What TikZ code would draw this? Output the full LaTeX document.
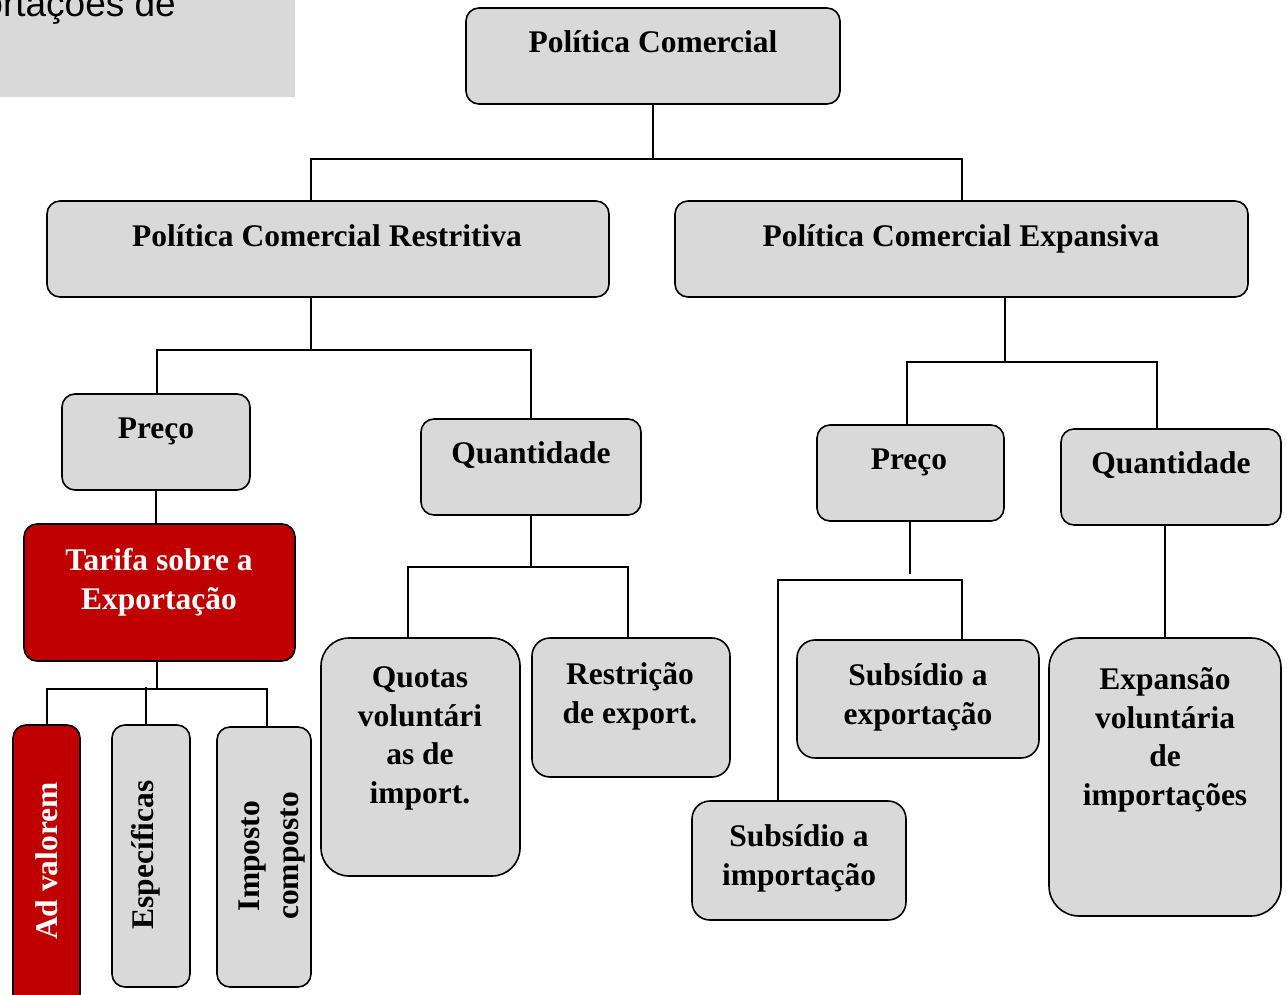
\documentclass[tikz,border=0pt]{standalone}
\usepackage{fontspec}
\setmainfont{Liberation Serif}
\newfontfamily\arialfont{Liberation Sans}
\definecolor{boxgray}{HTML}{D9D9D9}
\definecolor{boxred}{HTML}{C00000}
\tikzset{
  gbox/.style={draw=black, line width=1.6pt, fill=boxgray, rounded corners=13pt, inner sep=0pt},
  rbox/.style={gbox, fill=boxred},
  lbl/.style={font=\bfseries\fontsize{31.5}{38.5}\selectfont, align=center, anchor=base, inner sep=0pt},
  wlbl/.style={lbl, text=white},
  conn/.style={draw=black, line width=1.8pt},
}
\newcommand{\mkbox}[6]{%
  \node[#6, minimum width={#4-#2}, minimum height={#5-#3}] (#1) at ({(#2+#4)/2},{(#3+#5)/2}) {};}
\begin{document}
\begin{tikzpicture}[x=1pt,y=-1pt]
\useasboundingbox (0,0) rectangle (1287,995);
\clip (0,0) rectangle (1287,995);
% top-left clipped box
\fill[boxgray] (0,-5) rectangle (295,97);
\node[font=\arialfont\fontsize{37}{42}\selectfont, anchor=base east, inner sep=0pt] (cut) at (176,17) {ortações de};

% boxes
\mkbox{pc}{466}{8}{840}{104}{gbox}
\mkbox{pcr}{47}{201}{609}{297}{gbox}
\mkbox{pce}{675}{201}{1248}{297}{gbox}
\mkbox{prl}{62}{394}{250}{490}{gbox}
\mkbox{qtl}{421}{419}{641}{515}{gbox}
\mkbox{tar}{24}{524}{295}{661}{rbox}
\mkbox{adv}{13}{725}{80}{1010}{rbox}
\mkbox{esp}{112}{725}{190}{987}{gbox}
\mkbox{imp}{217}{727}{311}{987}{gbox}
\mkbox{quo}{321}{638}{520}{876}{gbox, rounded corners=28pt}
\mkbox{res}{532}{638}{730}{777}{gbox, rounded corners=18pt}
\mkbox{prr}{817}{425}{1004}{521}{gbox}
\mkbox{qtr}{1061}{429}{1281}{525}{gbox}
\mkbox{sexp}{797}{640}{1039}{758}{gbox, rounded corners=18pt}
\mkbox{simp}{692}{801}{906}{920}{gbox, rounded corners=18pt}
\mkbox{exv}{1049}{638}{1281}{916}{gbox, rounded corners=30pt}

% labels (multi-line: base = last line's baseline)
\node[lbl] (tpc) at (653,53) {Política Comercial};
\node[lbl] (tpcr) at (327,246) {Política Comercial Restritiva};
\node[lbl] (tpce) at (961,246) {Política Comercial Expansiva};
\node[lbl] (tprl) at (156,438) {Preço};
\node[lbl] (tqtl) at (531,463) {Quantidade};
\node[wlbl] (ttar) at (159,609) {Tarifa sobre a\\Exportação};
\node[lbl, text=white, rotate=90, anchor=center] (tadv) at (47,861) {Ad valorem};
\node[lbl, rotate=90, anchor=center] (tesp) at (146,855) {Específicas};
\node[lbl, rotate=90, anchor=center] (timp) at (272,856) {Imposto\\composto};
\node[lbl] (tquo) at (420,803) {Quotas\\voluntári\\as de\\import.};
\node[lbl] (tres) at (630,723) {Restrição\\de export.};
\node[lbl] (tprr) at (909,469) {Preço};
\node[lbl] (tqtr) at (1171,473) {Quantidade};
\node[lbl] (tsexp) at (918,724) {Subsídio a\\exportação};
\node[lbl] (tsimp) at (799,885) {Subsídio a\\importação};
\node[lbl] (texv) at (1165,805) {Expansão\\voluntária\\de\\importações};

% connectors
\coordinate (j1) at (653,159);
\draw[conn] (pc.south) -- (j1);
\draw[conn] (pcr.north -| 311,0) |- (j1) -| (pce.north -| 962,0);

\coordinate (j2) at (311,350);
\draw[conn] (pcr.south -| 311,0) -- (j2);
\draw[conn] (prl.north -| 157,0) |- (j2) -| (qtl.north -| 531,0);

\draw[conn] (prl.south -| 156,0) -- (tar.north -| 156,0);

\coordinate (j3) at (157,689);
\draw[conn] (tar.south -| 157,0) -- (j3);
\draw[conn] (adv.north -| 47,0) |- (j3) -| (imp.north -| 267,0);
\draw[conn] (esp.north -| 146,0) -- (146,687);

\coordinate (j4) at (531,567);
\draw[conn] (qtl.south -| 531,0) -- (j4);
\draw[conn] (quo.north -| 408,0) |- (j4) -| (res.north -| 628,0);

\coordinate (j5) at (1005,362);
\draw[conn] (pce.south -| 1005,0) -- (j5);
\draw[conn] (prr.north -| 907,0) |- (j5) -| (qtr.north -| 1157,0);

\draw[conn, line width=2.4pt] (prr.south -| 910,0) -- (910,574);
\coordinate (j6) at (870,580);
\draw[conn] (simp.north -| 778,0) |- (j6) -| (sexp.north -| 962,0);

\draw[conn] (qtr.south -| 1165,0) -- (exv.north -| 1165,0);
\end{tikzpicture}
\end{document}
